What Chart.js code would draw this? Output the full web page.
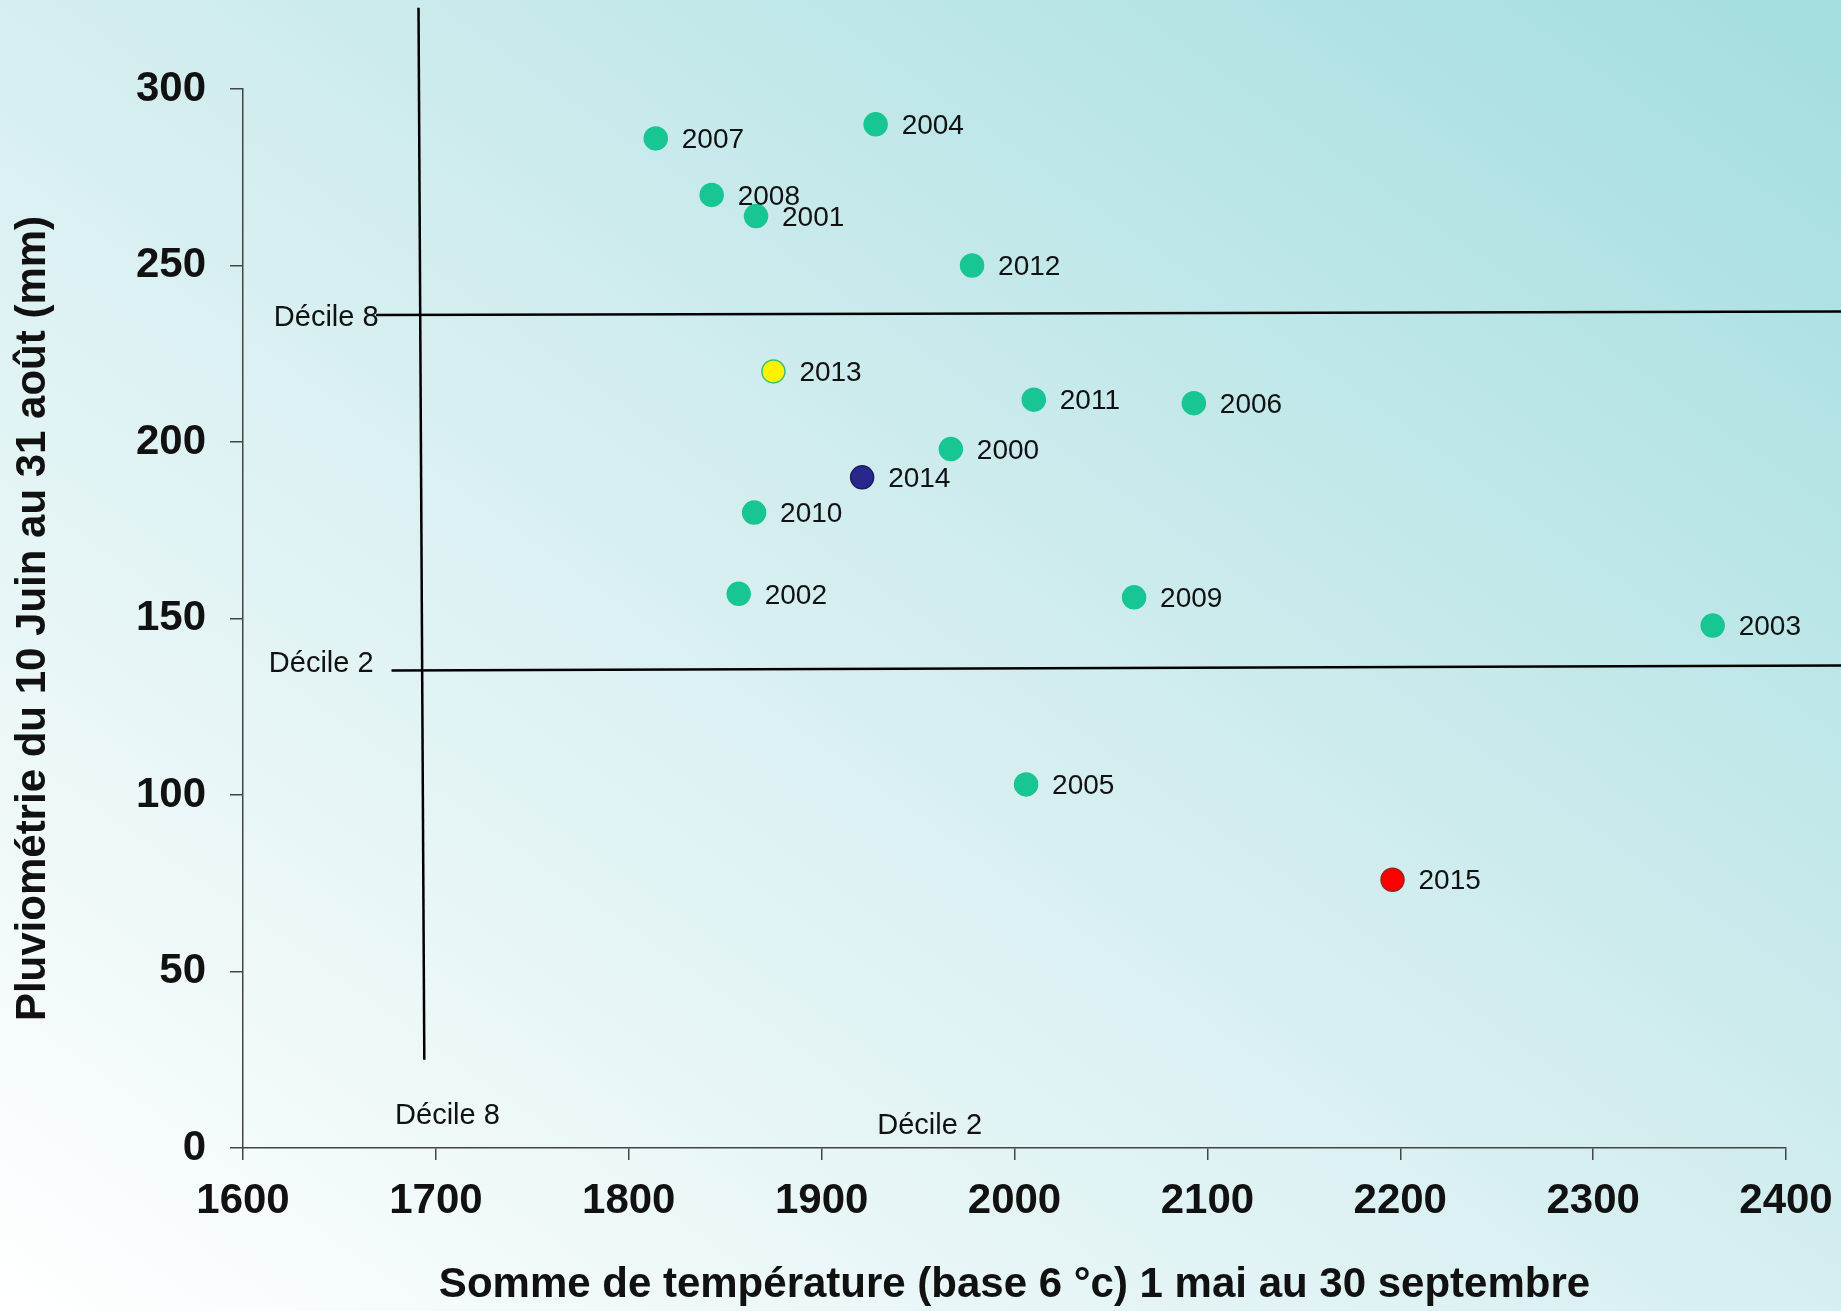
<!DOCTYPE html>
<html>
<head>
<meta charset="utf-8">
<script src="https://cdn.jsdelivr.net/npm/chart.js@4"></script>
<style>
  html, body { margin: 0; padding: 0; }
  body { width: 1841px; height: 1311px; overflow: hidden;
         background: linear-gradient(to top right, #ffffff 0%, #d5eef0 50%, #a3dedf 100%); }
  #c { display: block; }
</style>
</head>
<body>
<canvas id="c" width="1841" height="1311"></canvas>
<script>
// ---- data ----
const years = ['2007','2004','2008','2001','2012','2013','2011','2006','2000','2014','2010','2002','2009','2003','2005','2015'];
const tempSum = [1814, 1928, 1843, 1866, 1978, 1875, 2010, 2093, 1967, 1921, 1865, 1857, 2062, 2362, 2006, 2196];
const rainfall = [286, 290, 270, 264, 250, 220, 212, 211, 198, 190, 180, 157, 156, 148, 103, 76];
const xTicks = [1600, 1700, 1800, 1900, 2000, 2100, 2200, 2300, 2400];
const yTicks = [0, 50, 100, 150, 200, 250, 300];
const decile8Rain = [{x: 1669, y: 236}, {x: 2430, y: 237}];
const decile2Rain = [{x: 1677, y: 135.3}, {x: 2430, y: 136.7}];
const decile8Temp = [{x: 1691, y: 323}, {x: 1694, y: 25}];
const decileLabels = [
  {text: 'Décile 8', x: 1616, y: 235.1, align: 'left'},
  {text: 'Décile 2', x: 1613.4, y: 137.0, align: 'left'},
  {text: 'Décile 8', x: 1706, y: 9.0, align: 'center'},
  {text: 'Décile 2', x: 1956, y: 6.3, align: 'center'}
];

const GREEN = '#17c693';
const pointFill = years.map(y => y === '2013' ? '#fff200' : y === '2014' ? '#28288c' : y === '2015' ? '#ff0000' : GREEN);
const pointBorder = years.map(y => y === '2013' ? '#3cc070' : y === '2014' ? '#1c1c60' : y === '2015' ? '#a02020' : GREEN);

const FONT = '"Liberation Sans", Arial, sans-serif';

const labelPlugin = {
  id: 'labels',
  afterDatasetsDraw(chart) {
    const ctx = chart.ctx;
    const meta = chart.getDatasetMeta(0);
    ctx.save();
    ctx.fillStyle = '#111';
    ctx.font = '28px ' + FONT;
    ctx.textBaseline = 'middle';
    ctx.textAlign = 'left';
    meta.data.forEach((pt, i) => {
      ctx.fillText(years[i], pt.x + 26, pt.y + 2);
    });
    const xs = chart.scales.x, ys = chart.scales.y;
    ctx.font = '29px ' + FONT;
    decileLabels.forEach(d => {
      ctx.textAlign = d.align;
      ctx.fillText(d.text, xs.getPixelForValue(d.x), ys.getPixelForValue(d.y));
    });
    ctx.restore();
  }
};

const lineDs = (data) => ({
  type: 'line', data, showLine: true, pointRadius: 0, borderColor: '#000',
  borderWidth: 2.5, clip: false, order: 1, fill: false
});

new Chart(document.getElementById('c'), {
  type: 'scatter',
  data: {
    datasets: [
      { data: tempSum.map((x, i) => ({x, y: rainfall[i]})),
        backgroundColor: pointFill, borderColor: pointBorder, borderWidth: 1.5,
        pointRadius: 11.5, pointHoverRadius: 11.5, order: 0, clip: false },
      lineDs(decile8Rain),
      lineDs(decile2Rain),
      lineDs(decile8Temp)
    ]
  },
  options: {
    responsive: false,
    animation: false,
    devicePixelRatio: 1,
    layout: { padding: { left: 0, top: 89, right: 55, bottom: 0 } },
    plugins: { legend: { display: false }, tooltip: { enabled: false } },
    scales: {
      x: {
        type: 'linear', min: 1600, max: 2400,
        afterBuildTicks: s => { s.ticks = xTicks.map(v => ({value: v})); },
        afterFit: s => { s.height = 163; s.paddingLeft = 0; s.paddingRight = 0; },
        grid: { display: true, drawOnChartArea: false, drawTicks: true, tickLength: 12, color: '#444', lineWidth: 1.5 },
        border: { display: true, color: '#444', width: 1.5 },
        ticks: { color: '#111', padding: 16, maxRotation: 0, callback: v => String(v),
                 font: { family: FONT, size: 42, weight: 'bold' } },
        title: { display: true, text: 'Somme de température (base 6 °c) 1 mai au 30 septembre', color: '#111',
                 padding: { top: 0, bottom: 0 },
                 font: { family: FONT, size: 42, weight: 'bold' } }
      },
      y: {
        type: 'linear', min: 0, max: 300,
        afterBuildTicks: s => { s.ticks = yTicks.map(v => ({value: v})); },
        afterFit: s => { s.width = 243; s.paddingTop = 0; s.paddingBottom = 0; },
        grid: { display: true, drawOnChartArea: false, drawTicks: true, tickLength: 13, color: '#444', lineWidth: 1.5 },
        border: { display: true, color: '#444', width: 1.5 },
        ticks: { color: '#111', padding: 24, callback: v => String(v),
                 font: { family: FONT, size: 42, weight: 'bold' } },
        title: { display: true, text: 'Pluviométrie du 10 Juin au 31 août (mm)', color: '#111',
                 padding: { top: 8, bottom: 0 },
                 font: { family: FONT, size: 42, weight: 'bold' } }
      }
    }
  },
  plugins: [labelPlugin]
});
</script>
</body>
</html>
